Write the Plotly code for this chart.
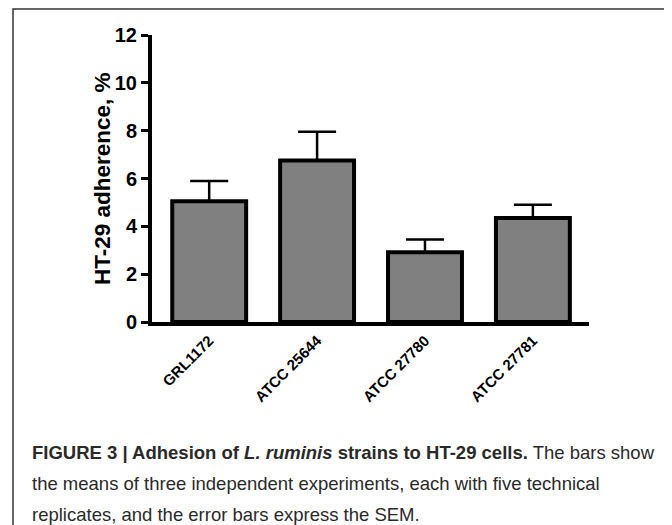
import plotly.graph_objects as go

categories = ["GRL1172", "ATCC 25644", "ATCC 27780", "ATCC 27781"]
means = [5.05, 6.75, 2.92, 4.35]
sem = [0.85, 1.2, 0.53, 0.55]
y_ticks = [0, 2, 4, 6, 8, 10, 12]

FONT = "Liberation Sans, Arial, sans-serif"

fig = go.Figure()
fig.add_trace(go.Bar(
    x=list(range(len(categories))),
    y=means,
    width=0.685,
    marker=dict(color="#808080", line=dict(color="black", width=4)),
    error_y=dict(type="data", array=sem, arrayminus=[0] * len(sem), symmetric=False,
                 color="black", thickness=2.5, width=19),
    showlegend=False,
))

fig.update_layout(
    width=672, height=525,
    margin=dict(l=144, r=91, t=27, b=211),
    paper_bgcolor="white", plot_bgcolor="white",
    font=dict(family=FONT, color="black"),
    xaxis=dict(
        range=[-0.53, 3.52],
        tickvals=list(range(len(categories))), ticktext=categories,
        tickangle=-45, tickfont=dict(size=15, weight="bold", family=FONT),
        showline=True, linewidth=4, linecolor="black",
        ticks="", showgrid=False, zeroline=False, automargin=False,
    ),
    yaxis=dict(
        range=[0, 12], tickvals=y_ticks,
        tickfont=dict(size=20, weight="bold", family=FONT),
        showline=True, linewidth=4, linecolor="black",
        ticks="outside", ticklen=7, tickwidth=3, tickcolor="black",
        showgrid=False, zeroline=False, automargin=False,
    ),
)

def px_x(p):
    return (p - 152) / 437

def px_y(p):
    return (322 - p) / 287

# y-axis title
fig.add_annotation(text="<b>HT-29 adherence, %</b>", xref="paper", yref="paper",
                   x=px_x(102), y=px_y(179), xanchor="center", yanchor="middle",
                   textangle=-90, showarrow=False,
                   font=dict(size=22.5, color="black", family=FONT))

# outer frame (open at bottom)
fig.add_shape(type="path", xref="paper", yref="paper",
              path=f"M {px_x(13)} {px_y(560)} L {px_x(13)} {px_y(9)} L {px_x(669)} {px_y(9)} L {px_x(669)} {px_y(560)}",
              line=dict(color="#333333", width=1.5))

caption = [
    "<b>FIGURE 3 | Adhesion of <i>L. ruminis</i> strains to HT-29 cells.</b> The bars show",
    "the means of three independent experiments, each with five technical",
    "replicates, and the error bars express the SEM.",
]
caption_y = [452, 483, 514]
for txt, yy in zip(caption, caption_y):
    fig.add_annotation(text=txt, xref="paper", yref="paper", x=px_x(30), y=px_y(yy),
                       xanchor="left", yanchor="middle", showarrow=False,
                       font=dict(size=18.5, color="#2a2a2a", family=FONT))

fig.write_html("out.html")
